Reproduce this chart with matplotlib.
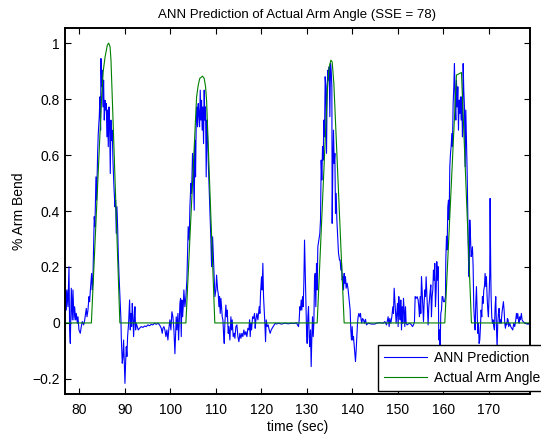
import matplotlib
matplotlib.use("Agg")
import matplotlib.pyplot as plt
from matplotlib.ticker import FuncFormatter

plt.rcParams['font.family'] = ['Liberation Sans', 'DejaVu Sans']

# Network output (time in seconds, fraction of full arm bend)
ann_t = [
    76.5, 76.68, 76.83, 77.05, 77.19, 77.34, 77.56, 77.78, 77.92, 78.07, 78.29, 78.51, 78.65, 78.87,
    79.02, 79.24, 79.39, 79.61, 79.75, 79.97, 80.26, 80.48, 80.70, 81.00, 81.21, 81.43, 81.58, 81.73,
    81.95, 82.17, 82.31, 82.53, 82.75, 82.90, 83.04,
    83.12, 83.33, 83.48, 83.70, 83.85, 84.07, 84.21, 84.43, 84.58, 84.72, 84.80, 84.94, 85.09, 85.24,
    85.38, 85.53, 85.68, 85.82, 85.97, 86.11, 86.26, 86.41, 86.55, 86.70, 86.85, 86.99, 87.14, 87.28,
    87.43, 87.65, 87.87, 88.02, 88.16, 88.31, 88.46, 88.60, 88.75, 88.97, 89.19,
    89.26, 89.48, 89.63, 89.77, 89.92, 90.07, 90.21, 90.36, 90.50, 90.65, 90.87, 91.09, 91.24, 91.38,
    91.53, 91.68, 91.82, 91.97, 92.11, 92.26, 92.41, 92.55, 92.77, 92.99, 93.28, 93.65, 94.02, 94.38,
    94.75, 95.11, 95.48, 95.85, 96.21, 96.58, 96.94, 97.31, 97.67, 98.04, 98.26, 98.41, 98.62, 98.84,
    99.06, 99.28, 99.50, 99.72, 99.94, 100.16, 100.38, 100.60, 100.82, 101.04, 101.18, 101.33, 101.48,
    101.70, 101.84, 101.99, 102.14, 102.28, 102.43, 102.57, 102.72, 102.87, 103.01, 103.23, 103.45,
    103.67,
    103.96, 104.18, 104.33, 104.55, 104.69, 104.91, 105.06, 105.28, 105.43, 105.57, 105.72, 105.86,
    106.01, 106.16, 106.30, 106.45, 106.60, 106.74, 106.89, 107.03, 107.18, 107.33, 107.47, 107.62,
    107.77, 107.91, 108.06, 108.21, 108.35, 108.50,
    108.72, 108.94, 109.09, 109.31, 109.46,
    109.82, 110.04, 110.19, 110.41, 110.55, 110.70, 110.84, 110.99, 111.14, 111.28, 111.43, 111.58,
    111.72, 111.87, 112.01, 112.23, 112.38, 112.53, 112.75, 112.89, 113.11, 113.33, 113.48, 113.62,
    113.84, 114.06, 114.21, 114.43, 114.65, 114.87, 115.09, 115.31, 115.53, 115.75, 115.96, 116.18,
    116.40, 116.62, 116.84, 117.06, 117.28, 117.43, 117.57, 117.72, 117.87, 118.09, 118.31, 118.52,
    118.67, 118.82, 119.04, 119.26, 119.40, 119.55, 119.70, 119.84, 120.06, 120.21, 120.35, 120.50,
    120.65, 120.79, 120.94, 121.09, 121.30, 121.52, 121.74, 121.96, 122.18, 122.40, 122.62, 122.84,
    123.06, 123.35, 123.72, 124.45, 125.18, 125.91, 126.64, 127.38, 127.74, 127.96, 128.18, 128.33,
    128.47, 128.62, 128.77, 128.91, 129.06, 129.21, 129.35, 129.50, 129.64, 129.79, 129.94, 130.08,
    130.23, 130.38, 130.52, 130.67, 130.81, 130.96, 131.11, 131.25, 131.40, 131.55, 131.69, 131.84,
    131.98, 132.13, 132.28, 132.42,
    132.86, 133.01, 133.16, 133.30, 133.45, 133.60, 133.74, 133.89, 134.03, 134.18, 134.33, 134.47,
    134.62, 134.77, 134.91, 135.06, 135.21, 135.35, 135.50, 135.57, 135.72, 135.86, 136.01, 136.16,
    136.30, 136.45, 136.60, 136.74, 136.96, 137.18,
    137.32, 137.47, 137.62, 137.76, 137.91, 138.06, 138.20, 138.35, 138.49, 138.64, 138.86, 139.08,
    139.23, 139.37, 139.52, 139.66, 139.81, 139.96, 140.10, 140.25, 140.40, 140.54, 140.69, 140.84,
    140.98, 141.13, 141.27, 141.42, 141.64, 141.79, 141.93, 142.08, 142.23, 142.45, 142.66, 142.88,
    143.10, 143.47, 144.20, 144.93,
    145.30, 146.03, 146.77, 147.13, 147.50, 147.72, 147.86, 148.08, 148.23, 148.45, 148.67, 148.89,
    149.03, 149.18, 149.33, 149.47, 149.62, 149.77, 149.91, 150.06, 150.20, 150.35, 150.50, 150.64,
    150.79, 150.94, 151.08, 151.23, 151.37, 151.52, 151.67, 151.81, 152.03, 152.25, 152.62, 152.98,
    153.20, 153.42, 153.64, 153.79, 154.01, 154.23, 154.45, 154.59, 154.74, 154.89, 155.03, 155.18,
    155.32, 155.47, 155.62, 155.76, 155.91, 156.06, 156.20, 156.35, 156.49, 156.64, 156.79, 156.93,
    157.08, 157.23, 157.37, 157.52, 157.67, 157.81, 157.96, 158.10, 158.25, 158.40, 158.54, 158.69,
    158.84, 158.98, 159.13, 159.27, 159.42, 159.57, 159.71, 159.86, 160.01, 160.23, 160.45,
    160.52, 160.67, 160.81, 160.96, 161.11, 161.25, 161.40, 161.55, 161.69, 161.84, 161.98, 162.13,
    162.28, 162.42, 162.57, 162.72, 162.86, 163.01, 163.16, 163.30, 163.45, 163.59, 163.74, 163.89,
    164.03, 164.18, 164.33, 164.47, 164.62, 164.77, 164.91, 165.06, 165.20, 165.35, 165.50, 165.64,
    165.79, 165.94, 166.08, 166.23, 166.37, 166.52,
    166.66, 166.81, 166.96, 167.10, 167.25, 167.39, 167.54, 167.69, 167.83, 167.98, 168.13, 168.27,
    168.42, 168.56, 168.71, 168.86, 169.00, 169.15, 169.30, 169.44, 169.59, 169.74, 169.88, 170.03,
    170.17, 170.25, 170.39, 170.47, 170.61, 170.76, 170.91, 171.05, 171.20, 171.35, 171.49, 171.64,
    171.78, 171.93, 172.08, 172.22, 172.37, 172.52, 172.66, 172.88, 173.03, 173.17, 173.32, 173.47,
    173.61, 173.76, 173.91, 174.05, 174.20, 174.34, 174.56, 174.78, 174.98, 175.22, 175.44, 175.66,
    175.88, 176.03, 176.17, 176.32, 176.47, 176.61, 176.76, 176.90, 177.12, 177.27, 177.49, 177.78,
    178.08, 178.37, 178.73, 179.2,
]
ann_v = [
    0.090, 0.094, 0.082, 0.118, 0.046, 0.118, 0.058, 0.201, -0.025, -0.073, 0.124, 0.011, 0.118, 0.011,
    0.058, 0.011, 0.034, -0.001, 0.022, -0.025, -0.037, -0.013, 0.005, -0.007, 0.008, 0.034, 0.052, 0.022,
    0.046, 0.094, 0.076, 0.130, 0.177, 0.118, 0.153,
    0.225, 0.380, 0.344, 0.522, 0.439, 0.606, 0.677, 0.737, 0.808, 0.689, 0.945, 0.844, 0.903, 0.772,
    0.868, 0.725, 0.796, 0.761, 0.784, 0.665, 0.761, 0.630, 0.772, 0.713, 0.534, 0.725, 0.653, 0.689,
    0.582, 0.487, 0.415, 0.439, 0.320, 0.415, 0.344, 0.249, 0.177, 0.094, 0.011,
    -0.049, -0.144, -0.120, -0.061, -0.144, -0.216, -0.144, -0.085, -0.120, -0.049, -0.001, 0.082, -0.025, 0.034,
    -0.013, 0.070, 0.022, -0.049, 0.011, 0.058, -0.025, -0.001, -0.013, -0.025, -0.019, -0.013, -0.016, -0.011,
    -0.013, -0.007, -0.010, -0.005, -0.007, -0.001, -0.005, -0.001, -0.007, -0.019, -0.037, -0.019, -0.013, -0.025,
    -0.049, -0.025, -0.061, -0.019, 0.011, -0.025, 0.040, 0.022, -0.025, -0.110, -0.049, 0.022, -0.025,
    0.034, -0.061, -0.001, 0.070, 0.088, -0.049, 0.082, 0.022, 0.058, 0.118, 0.058, 0.094,
    0.153,
    0.344, 0.296, 0.415, 0.499, 0.463, 0.606, 0.570, 0.403, 0.653, 0.522, 0.725, 0.772,
    0.701, 0.784, 0.749, 0.701, 0.832, 0.725, 0.796, 0.689, 0.772, 0.641, 0.832, 0.725,
    0.772, 0.522, 0.725, 0.665, 0.582, 0.511,
    0.415, 0.296, 0.201, 0.308, 0.249,
    0.094, 0.118, 0.171, 0.118, 0.106, 0.058, 0.094, 0.034, 0.088, 0.058, 0.022, 0.011,
    -0.037, -0.073, -0.001, 0.064, 0.022, 0.046, -0.037, -0.013, -0.061, 0.022, -0.025, 0.011,
    -0.049, -0.037, -0.055, -0.013, -0.007, -0.049, -0.067, -0.037, -0.055, -0.037, -0.049, -0.025,
    -0.043, -0.031, -0.049, -0.019, -0.025, 0.011, -0.049, -0.001, -0.025, 0.022, 0.016, 0.034,
    -0.019, 0.011, 0.034, 0.011, 0.034, 0.058, 0.034, 0.106, 0.165, 0.118, 0.213, 0.094,
    0.046, -0.001, -0.067, 0.011, -0.013, -0.007, -0.025, -0.037, -0.025, -0.019, -0.013, -0.007,
    -0.001, -0.004, -0.001, -0.004, -0.001, -0.003, -0.001, -0.002, 0.001, -0.007, -0.013, 0.011,
    0.058, 0.046, 0.082, 0.046, 0.094, 0.058, 0.142, 0.296, 0.189, 0.058, -0.025, -0.073,
    0.022, 0.058, -0.049, -0.085, -0.025, -0.156, -0.049, 0.022, -0.049, -0.001, 0.153, 0.177,
    0.058, 0.213, 0.118, 0.272,
    0.320, 0.368, 0.582, 0.511, 0.630, 0.582, 0.725, 0.665, 0.880, 0.844, 0.606, 0.844,
    0.903, 0.868, 0.915, 0.737, 0.927, 0.903, 0.844, 0.356, 0.570, 0.689, 0.570, 0.606,
    0.392, 0.463, 0.368, 0.320, 0.249, 0.225,
    0.225, 0.189, 0.213, 0.153, 0.165, 0.118, 0.177, 0.142, 0.165, 0.124, 0.142, 0.118,
    0.094, 0.070, 0.046, -0.025, -0.061, -0.013, -0.061, -0.049, -0.079, -0.108, -0.138, -0.097,
    -0.049, -0.001, 0.022, 0.034, 0.022, 0.034, 0.011, -0.001, 0.016, 0.011, -0.001, 0.013,
    -0.007, -0.001, -0.004, -0.004,
    -0.001, 0.001, -0.001, 0.005, -0.007, 0.011, 0.022, -0.013, 0.016, -0.001, 0.022, 0.058,
    0.034, 0.124, 0.082, 0.046, -0.001, 0.034, 0.070, -0.013, 0.094, 0.046, 0.011, 0.082,
    -0.025, 0.058, -0.001, 0.088, 0.046, -0.013, 0.058, -0.001, -0.007, -0.004, -0.001, -0.007,
    -0.013, -0.007, 0.005, 0.094, 0.088, 0.094, 0.082, 0.058, 0.022, 0.094, 0.034, 0.165,
    0.118, 0.058, 0.005, 0.070, 0.118, 0.094, 0.165, 0.106, 0.046, -0.007, 0.058, 0.082,
    0.112, 0.136, 0.022, 0.094, 0.118, 0.189, 0.153, 0.213, 0.058, 0.118, 0.219, 0.153,
    0.201, -0.061, -0.025, -0.100, 0.034, 0.046, 0.094, 0.094, 0.076, 0.076, 0.094,
    0.225, 0.310, 0.261, 0.415, 0.439, 0.368, 0.558, 0.606, 0.630, 0.677, 0.630, 0.784,
    0.844, 0.927, 0.784, 0.725, 0.868, 0.772, 0.844, 0.689, 0.796, 0.749, 0.808, 0.725,
    0.808, 0.665, 0.927, 0.832, 0.772, 0.558, 0.761, 0.653, 0.546, 0.380, 0.225, 0.165,
    0.368, 0.308, 0.237, 0.249, 0.272, 0.201,
    0.058, 0.011, -0.025, 0.070, 0.130, 0.046, -0.037, -0.001, -0.073, -0.061, -0.013, 0.046,
    0.022, 0.094, 0.070, 0.118, 0.130, 0.177, 0.130, 0.165, 0.094, 0.046, 0.022, 0.106,
    0.177, 0.445, 0.180, 0.094, 0.022, -0.001, 0.011, -0.013, -0.025, 0.058, 0.094, -0.013,
    -0.090, -0.001, 0.034, 0.052, -0.001, 0.011, -0.001, 0.040, 0.058, 0.076, 0.046, -0.001,
    -0.019, -0.001, -0.007, 0.016, 0.011, -0.013, -0.001, -0.013, -0.019, -0.025, -0.001, -0.013,
    0.011, 0.034, 0.016, 0.034, 0.011, -0.001, 0.022, 0.011, 0.034, 0.011, 0.005, 0.001,
    -0.001, -0.004, -0.004, -0.003,
]

# Measured arm angle
actual_t = [76.5, 82.7, 84.95, 85.3, 85.7, 86.2, 86.5, 86.8, 87.0, 87.28, 88.95,
            103.45, 105.8, 106.16, 106.5, 107.1, 107.47, 107.77, 107.99, 109.8,
            132.28, 134.55, 134.91, 135.28, 135.57, 135.94, 138.2,
            160.3, 162.86, 163.96, 166.15, 179.5]
actual_v = [0.0, 0.0, 0.808, 0.90, 0.95, 0.993, 1.0, 0.987, 0.94, 0.808, 0.0,
            0.0, 0.808, 0.85, 0.874, 0.882, 0.874, 0.844, 0.796, 0.0,
            0.0, 0.844, 0.915, 0.939, 0.933, 0.856, 0.0,
            0.0, 0.886, 0.895, 0.0, 0.0]

x_ticks = [80, 90, 100, 110, 120, 130, 140, 150, 160, 170]
y_ticks = [-0.2, 0, 0.2, 0.4, 0.6, 0.8, 1]

fig = plt.figure(figsize=(5.41, 4.36), dpi=100)
ax = fig.add_axes([0.1201, 0.0963, 0.8595, 0.8394])

ax.plot(ann_t, ann_v, color=(0, 0, 1), lw=0.8, label='ANN Prediction')
ax.plot(actual_t, actual_v, color=(0, 0.5, 0), lw=0.8, label='Actual Arm Angle')

ax.set_xlim(76.9, 179.0)
ax.set_ylim(-0.254, 1.054)
ax.set_xticks(x_ticks)
ax.set_yticks(y_ticks)


def fmt_y(v, pos):
    s = ('%g' % v)
    return s.replace('-', '\u2212')


ax.yaxis.set_major_formatter(FuncFormatter(fmt_y))
ax.tick_params(direction='in', length=4, width=0.8, top=True, right=True,
               labelsize=10, colors='black')
ax.tick_params(axis='x', pad=6.5)
ax.tick_params(axis='y', pad=3.5)
for sp in ax.spines.values():
    sp.set_linewidth(1.4)

ax.set_title('ANN Prediction of Actual Arm Angle (SSE = 78)', fontsize=9.5, pad=7)
ax.set_xlabel('time (sec)', fontsize=10, labelpad=2)
ax.set_ylabel('% Arm Bend', fontsize=10, labelpad=5)

leg = ax.legend(loc='upper left', bbox_to_anchor=(0.673, 0.134), borderaxespad=0,
                fontsize=10, frameon=True, fancybox=False, framealpha=1,
                edgecolor='black', borderpad=0.45, labelspacing=0.42,
                handlelength=3.1, handletextpad=0.5)
leg.get_frame().set_linewidth(1.0)

fig.savefig('out.png', dpi=100)
